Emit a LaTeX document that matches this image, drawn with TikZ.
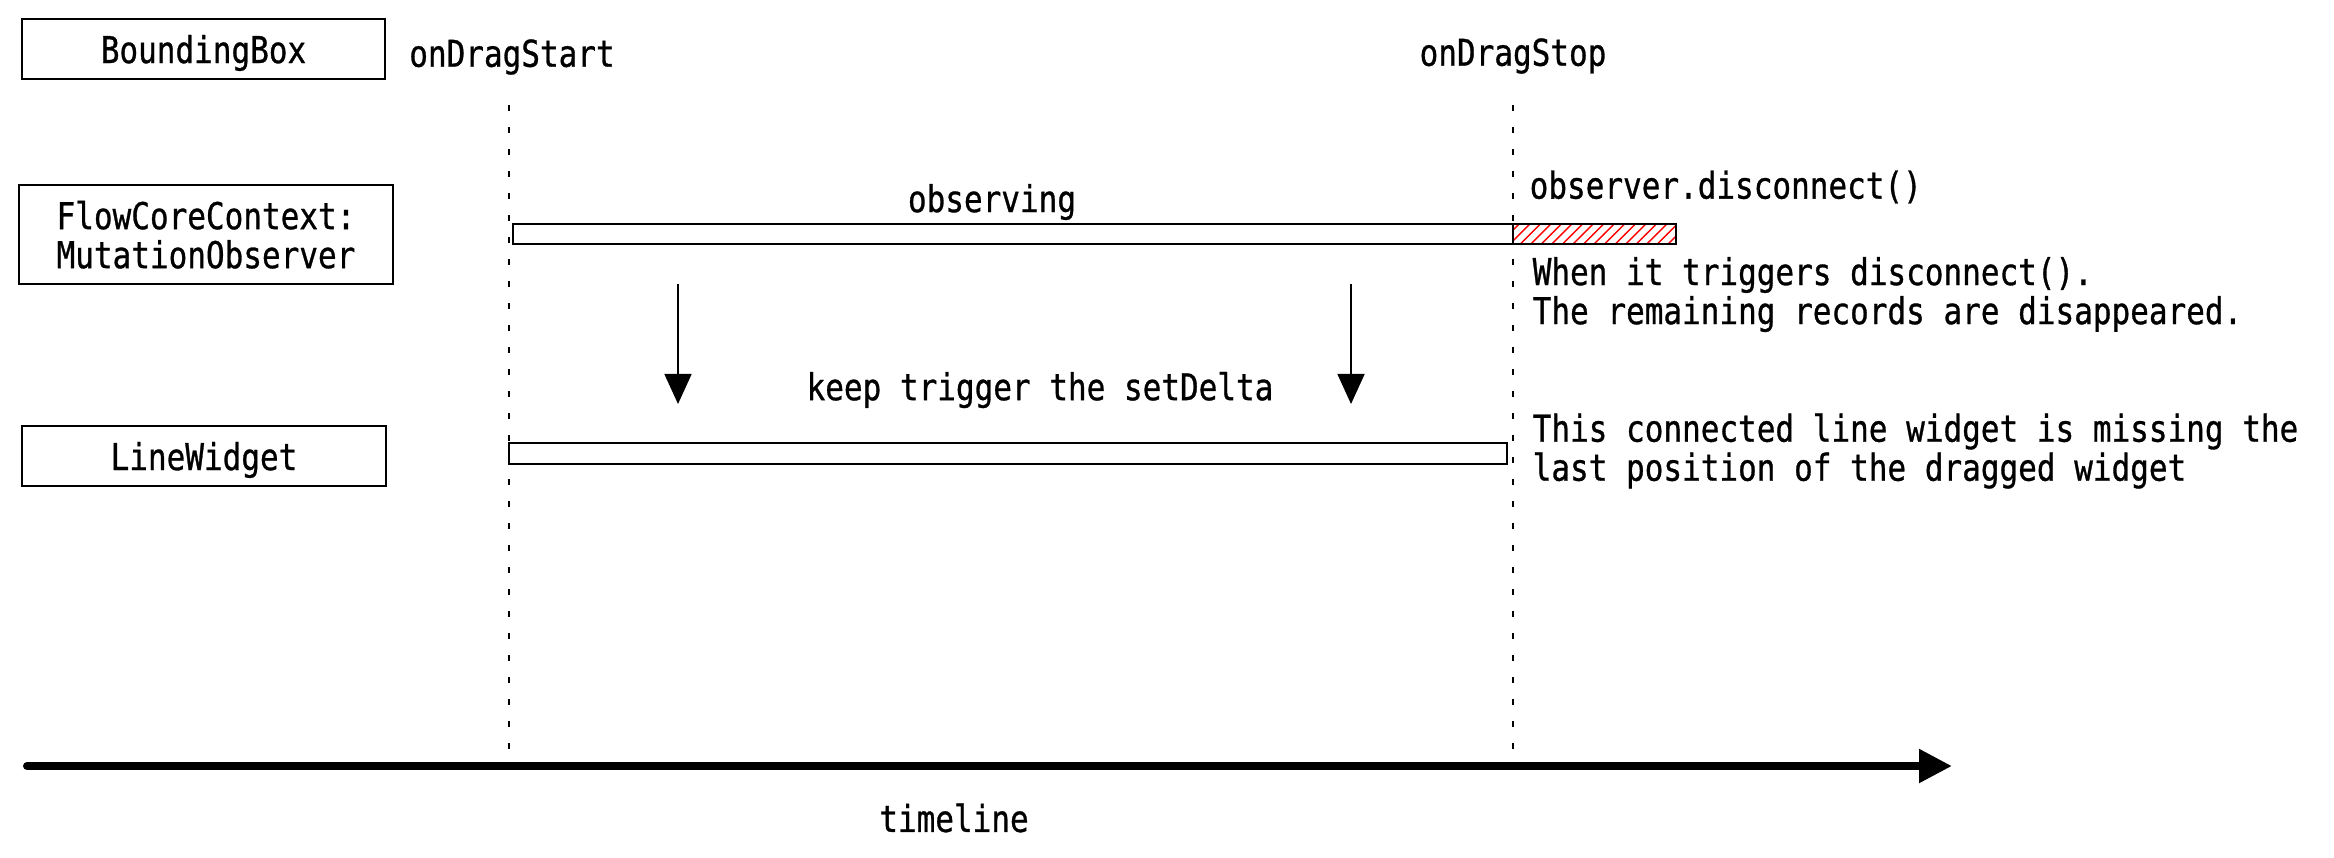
\documentclass[tikz,border=0pt]{standalone}
\usepackage{fontspec}
\setmonofont[FakeStretch=0.84,FakeBold=0.8]{DejaVu Sans Mono}
\usetikzlibrary{arrows.meta,patterns}

\begin{document}
\begin{tikzpicture}[x=0.01cm,y=-0.01cm,
    font=\ttfamily\fontsize{10.5}{11.1}\selectfont,
    actor/.style={draw,line width=0.6pt,inner sep=0pt,minimum height=0.6cm,text depth=0pt},
    bar/.style={draw,line width=0.5pt,inner sep=0pt,minimum height=0.2cm},
    note/.style={inner sep=0pt,anchor=west,align=left},
    lifeline/.style={line width=0.65pt,dash pattern=on 0.06cm off 0.16cm},
    trigger/.style={-{Triangle[length=0.3cm,width=0.27cm]},line width=0.45pt}]
  \useasboundingbox (0,0) rectangle (2334,857);
  % actors on the left
  \node[actor,minimum width=3.63cm] (bbox) at (203.5,49) {BoundingBox};
  \node[actor,minimum width=3.74cm,minimum height=0.99cm,align=center] (flow) at (206,234.5) {FlowCoreContext:\\MutationObserver};
  \node[actor,minimum width=3.64cm] (line) at (204,456) {LineWidget};
  % drag events
  \node (start) at (512,57) {onDragStart};
  \node (stop) at (1513,56) {onDragStop};
  \coordinate (starttop) at (509,105);
  \coordinate (startbot) at (509,763);
  \coordinate (stoptop) at (1513,105);
  \coordinate (stopbot) at (1513,763);
  \draw[lifeline] (starttop) -- (startbot);
  \draw[lifeline] (stoptop) -- (stopbot);
  % observer
  \node (observing) at (992,202) {observing};
  \node[bar,minimum width=10cm] (obsbar) at (1013,234) {};
  \node[bar,minimum width=1.63cm,pattern=north east lines,pattern color=red] (gone) at (1594.5,234) {};
  \node[note] (disc) at (1529,187) {observer.disconnect()};
  \node[note] (lost) at (1532,294.5) {When it triggers disconnect().\\The remaining records are disappeared.};
  % setDelta calls
  \coordinate (d1) at (678,284);
  \coordinate (d1end) at (678,404);
  \coordinate (d2) at (1351,284);
  \coordinate (d2end) at (1351,404);
  \draw[trigger] (d1) -- (d1end);
  \draw[trigger] (d2) -- (d2end);
  \node (keep) at (1040,390) {keep trigger the setDelta};
  % line widget
  \node[bar,minimum width=9.98cm,minimum height=0.21cm] (linebar) at (1008,453.5) {};
  \node[note] (miss) at (1532,451) {This connected line widget is missing the\\last position of the dragged widget};
  % timeline
  \coordinate (t0) at (27,766);
  \coordinate (t1) at (1952,766);
  \draw[line width=0.08cm,line cap=round,-{Triangle[length=0.33cm,width=0.32cm]}] (t0) -- (t1);
  \node (time) at (954,818) {timeline};
\end{tikzpicture}
\end{document}
